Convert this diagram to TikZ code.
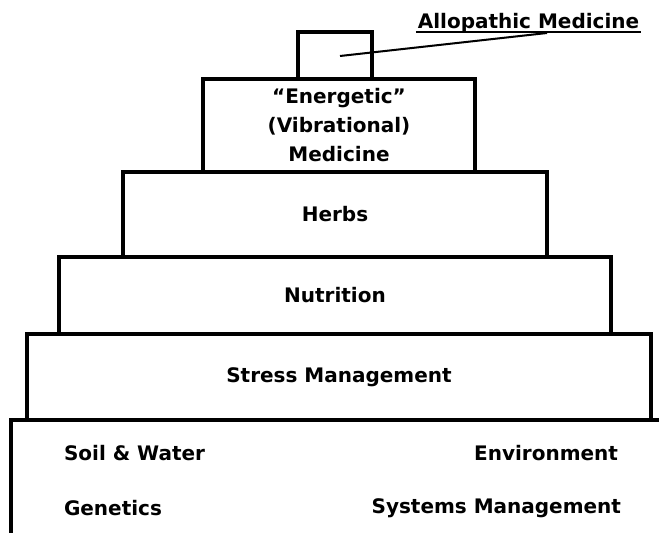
\documentclass[tikz,border=0pt]{standalone}
\usepackage{fontspec}
\setmainfont{DejaVu Sans}
\usetikzlibrary{positioning}
\begin{document}
\begin{tikzpicture}[x=1pt,y=-1pt,line width=4pt,font=\bfseries\fontsize{20}{29}\selectfont]
                  \tikzstyle{tier}=[draw,inner sep=0pt,align=center]
                  \tikzstyle{lead}=[line width=2pt]
                  \useasboundingbox (0,0) rectangle (659,533);

                  \node[tier,minimum width=74pt,minimum height=47pt]   (allo)   at (335,55.5)  {};
                  \node[tier,minimum width=272pt,minimum height=93pt]  (energy) at (339,125.5) {“Energetic”\\(Vibrational)\\Medicine};
                  \node[tier,minimum width=424pt,minimum height=85pt]  (herbs)  at (335,214.5) {Herbs};
                  \node[tier,minimum width=552pt,minimum height=77pt]  (nutri)  at (335,295.5) {Nutrition};
                  \node[tier,minimum width=624pt,minimum height=86pt]  (stress) at (339,377)   {Stress Management};

                  % open base of the pyramid
                  \coordinate (base bl) at (11,533);
                  \coordinate (base tr) at (659,420);
                  \draw (base bl) |- (base tr);

                  \node[anchor=west,inner sep=0pt] (soil)  at (62,453)  {Soil \& Water};
                  \node[anchor=east,inner sep=0pt] (env)   at (620,453) {Environment};
                  \node[anchor=west,inner sep=0pt] (genes) at (62,508)  {Genetics};
                  \node[anchor=east,inner sep=0pt] (sysm)  at (623,508) {Systems Management};

                  \node[anchor=base,inner sep=0pt] (allo label) at (528.5,28) {Allopathic Medicine};
                  \draw[lead] ([yshift=-4pt]allo label.base west) -- ([yshift=-4pt]allo label.base east);
                  \coordinate (allo tip) at (340,56);
                  \coordinate (lead end) at (547,33);
                  \draw[lead] (allo tip) -- (lead end);
                \end{tikzpicture}
\end{document}
